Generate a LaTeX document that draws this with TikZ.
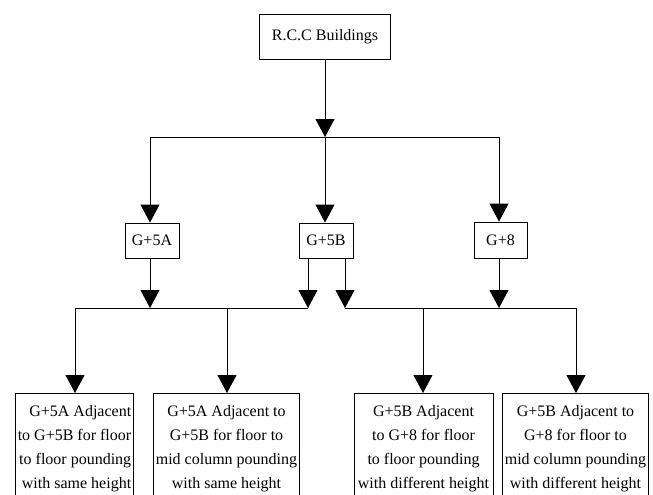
\documentclass[tikz,border=0pt]{standalone}
\usepackage{fontspec}
\setmainfont{Liberation Serif}
\usetikzlibrary{arrows.meta}
\begin{document}
\begin{tikzpicture}[x=1pt,y=-1pt,>={Triangle[width=19pt,length=18pt]},
  line width=0.9pt,font=\fontsize{16}{24}\selectfont,
  box/.style={draw,inner sep=2pt,align=center},
  leaf/.style={box,anchor=north,minimum height=110pt}]
  \useasboundingbox (0,0) rectangle (653,495);

  \node[box,minimum width=131pt,minimum height=45pt] (rcc) at (325,36.5) {R.C.C Buildings};
  \node[box,minimum width=54pt,minimum height=35pt] (g5a) at (152,240.5) {G+5A};
  \node[box,minimum width=54pt,minimum height=35pt] (g5b) at (326,240.5) {G+5B};
  \node[box,minimum width=53pt,minimum height=36pt] (g8) at (500.5,240) {G+8};

  \node[leaf,minimum width=117pt,align=right] (b1) at (74.5,393) {G+5A Adjacent\\to G+5B for floor\\to floor pounding\\with same height};
  \node[leaf,minimum width=143pt] (b2) at (226.5,393) {G+5A Adjacent to\\G+5B for floor to\\mid column pounding\\with same height};
  \node[leaf,minimum width=139pt] (b3) at (423.5,393) {G+5B Adjacent\\to G+8 for floor\\to floor pounding\\with different height};
  \node[leaf,minimum width=143pt] (b4) at (575.5,393) {G+5B Adjacent to\\G+8 for floor to\\mid column pounding\\with different height};

  % first level
  \coordinate (top) at (325,137);
  \draw[->] (rcc) -- (top);
  \draw (150,137) -- (499,137);
  \foreach \n/\x in {g5a/150,g5b/325,g8/499}
    \draw[->] (\x,137) -- (\x,0 |- \n.north);

  % second level
  \foreach \n/\x in {g5a/150,g5b/308,g5b/345,g8/499}
    \draw[->] (\x,0 |- \n.south) -- (\x,308);
  \coordinate (busl) at (75,308); \coordinate (busr) at (576,308);
  \draw (busl) -- (308,308);
  \draw (345,308) -- (busr);
  \foreach \n/\x in {b1/75,b2/227,b3/423,b4/576}
    \draw[->] (\x,308) -- (\x,0 |- \n.north);

\end{tikzpicture}
\end{document}
